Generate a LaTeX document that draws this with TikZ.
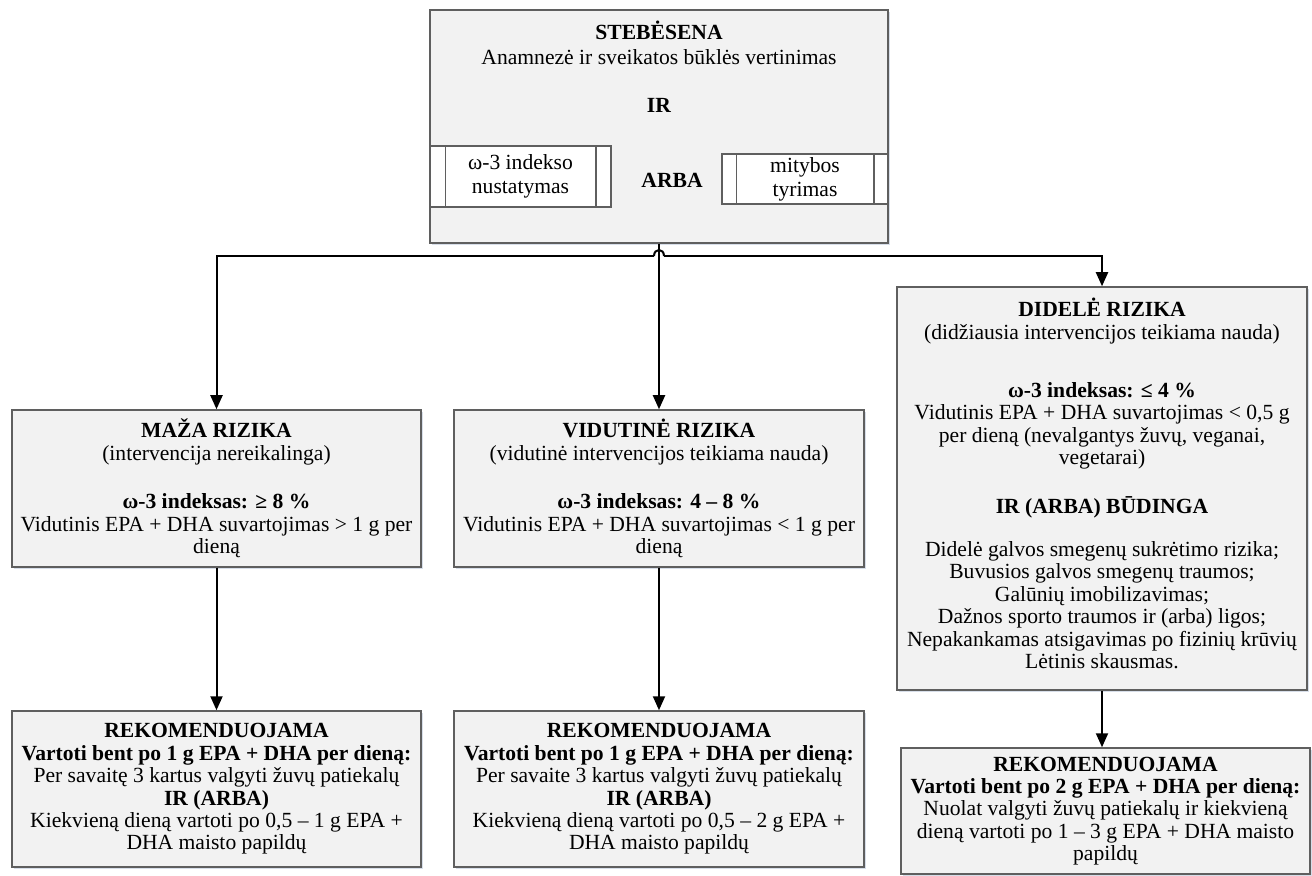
\documentclass[tikz,border=0pt]{standalone}
\usepackage{fontspec}
\setmainfont{Liberation Serif}
\usetikzlibrary{arrows.meta,positioning,shadows}
\definecolor{boxfill}{RGB}{242,242,242}
\definecolor{boxline}{RGB}{95,95,95}
\definecolor{shade}{RGB}{205,214,228}

\begin{document}
\begin{tikzpicture}[x=0.5pt,y=-0.5pt]
		\tikzstyle{box}=[draw=boxline,line width=0.75pt,fill=boxfill,align=center,inner xsep=1pt,inner ysep=2pt,font=\fontsize{10.8}{11.2}\selectfont,drop shadow={shadow xshift=0.8pt,shadow yshift=-1pt,fill=shade,opacity=0.8}]
		\tikzstyle{proc}=[draw=boxline,line width=0.75pt,fill=white,align=center,inner sep=0pt,font=\fontsize{10.8}{12}\selectfont]
		\tikzstyle{link}=[line width=1pt,-{Triangle[width=6pt,length=7pt]}]

		\useasboundingbox (0,0) rectangle (1312,876);

		% stebesena
		\node[box,minimum width=229pt,minimum height=116.5pt](mon) at (659,126.5){};
		\node[align=center,inner sep=0pt,anchor=north,font=\fontsize{10.8}{12.5}\selectfont](ttl) at (659,21){\textbf{STEBĖSENA}\\Anamnezė ir sveikatos būklės vertinimas\\[11.5pt]\textbf{IR}};
		\node[proc,minimum width=90.5pt,minimum height=30.5pt](idx) at (520.5,176.5){\raisebox{-2pt}{ω-3 indekso}\\\raisebox{-2pt}{nustatymas}};
		\node[proc,minimum width=83pt,minimum height=25pt](diet) at (805,179){mitybos\\tyrimas};
		\node[font=\fontsize{10.8}{12}\selectfont\bfseries](arba) at (672,180){ARBA};
		\draw[boxline,line width=0.75pt] ([xshift=8pt]idx.north west) -- ([xshift=8pt]idx.south west);
		\draw[boxline,line width=0.75pt] ([xshift=-8pt]idx.north east) -- ([xshift=-8pt]idx.south east);
		\draw[boxline,line width=0.75pt] ([xshift=7.5pt]diet.north west) -- ([xshift=7.5pt]diet.south west);
		\draw[boxline,line width=0.75pt] ([xshift=-7.5pt]diet.north east) -- ([xshift=-7.5pt]diet.south east);

		% rizikos grupes
		\node[box,minimum width=204.5pt,minimum height=78.5pt](low) at (216.5,488.5){\textbf{MAŽA RIZIKA}\\(intervencija nereikalinga)\\[13pt]\textbf{ω-3 indeksas: ≥ 8 \%}\\Vidutinis EPA + DHA suvartojimas > 1 g per\\dieną};
		\node[box,minimum width=205pt,minimum height=78.5pt](mid) at (659,488.5){\textbf{VIDUTINĖ RIZIKA}\\(vidutinė intervencijos teikiama nauda)\\[13pt]\textbf{ω-3 indeksas: 4 – 8 \%}\\Vidutinis EPA + DHA suvartojimas < 1 g per\\dieną};
		\node[box,minimum width=205pt,minimum height=201.5pt](high) at (1102,488.5){\textbf{DIDELĖ RIZIKA}\\(didžiausia intervencijos teikiama nauda)\\[18pt]\textbf{ω-3 indeksas: ≤ 4 \%}\\Vidutinis EPA + DHA suvartojimas < 0,5 g\\per dieną (nevalgantys žuvų, veganai,\\vegetarai)\\[13pt]\textbf{IR (ARBA) BŪDINGA}\\[10.5pt]Didelė galvos smegenų sukrėtimo rizika;\\Buvusios galvos smegenų traumos;\\Galūnių imobilizavimas;\\Dažnos sporto traumos ir (arba) ligos;\\Nepakankamas atsigavimas po fizinių krūvių\\Lėtinis skausmas.\\[-6pt]\mbox{}};

		% rekomendacijos
		\node[box,minimum width=204.5pt,minimum height=78pt](rlow) at (216.5,789){\textbf{REKOMENDUOJAMA}\\\textbf{Vartoti bent po 1 g EPA + DHA per dieną:}\\Per savaitę 3 kartus valgyti žuvų patiekalų\\\textbf{IR (ARBA)}\\Kiekvieną dieną vartoti po 0,5 – 1 g EPA +\\DHA maisto papildų};
		\node[box,minimum width=205pt,minimum height=78pt](rmid) at (659,789){\textbf{REKOMENDUOJAMA}\\\textbf{Vartoti bent po 1 g EPA + DHA per dieną:}\\Per savaite 3 kartus valgyti žuvų patiekalų\\\textbf{IR (ARBA)}\\Kiekvieną dieną vartoti po 0,5 – 2 g EPA +\\DHA maisto papildų};
		\node[box,minimum width=204.5pt,minimum height=63pt](rhigh) at (1105.5,811){\textbf{REKOMENDUOJAMA}\\\textbf{Vartoti bent po 2 g EPA + DHA per dieną:}\\Nuolat valgyti žuvų patiekalų ir kiekvieną\\dieną vartoti po 1 – 3 g EPA + DHA maisto\\papildų};

		% jungtys
		\coordinate (hopL) at (654,256);
		\coordinate (hopR) at (664,256);
		\draw[link] (mon.south) -- (mid.north);
		\draw[link] (hopL) -| (low.north);
		\draw[link] (hopR) -| (high.north);
		\draw[line width=1pt] (hopL) .. controls +(0,-8) and +(0,-8) .. (hopR);
		\draw[link] (low.south) -- (rlow.north);
		\draw[link] (mid.south) -- (rmid.north);
		\draw[link] (high.south) -- (high.south |- rhigh.north);
	\end{tikzpicture}
\end{document}
